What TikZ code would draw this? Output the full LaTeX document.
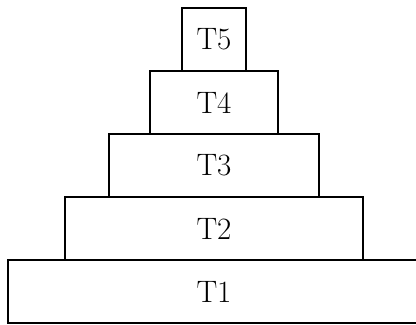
\documentclass[tikz,border=0pt]{standalone}
\usepackage{tikz}
\usetikzlibrary{positioning}
\tikzset{
  tier/.style={draw=black,line width=1.4pt,outer sep=0pt,minimum height=31.5pt,inner sep=0pt,font=\fontsize{15.5}{18}\selectfont}
}
\begin{document}
\begin{tikzpicture}[x=0.5pt,y=0.5pt]
\useasboundingbox (0,0) rectangle (416,325);
\node[tier,minimum width=206pt] (t1) at (214,33.5) {T1};
\node[tier,minimum width=149pt,above=0pt of t1] (t2) {T2};
\node[tier,minimum width=105pt,above=0pt of t2] (t3) {T3};
\node[tier,minimum width=64pt,above=0pt of t3] (t4) {T4};
\node[tier,minimum width=32pt,above=0pt of t4] (t5) {T5};
\end{tikzpicture}
\end{document}
